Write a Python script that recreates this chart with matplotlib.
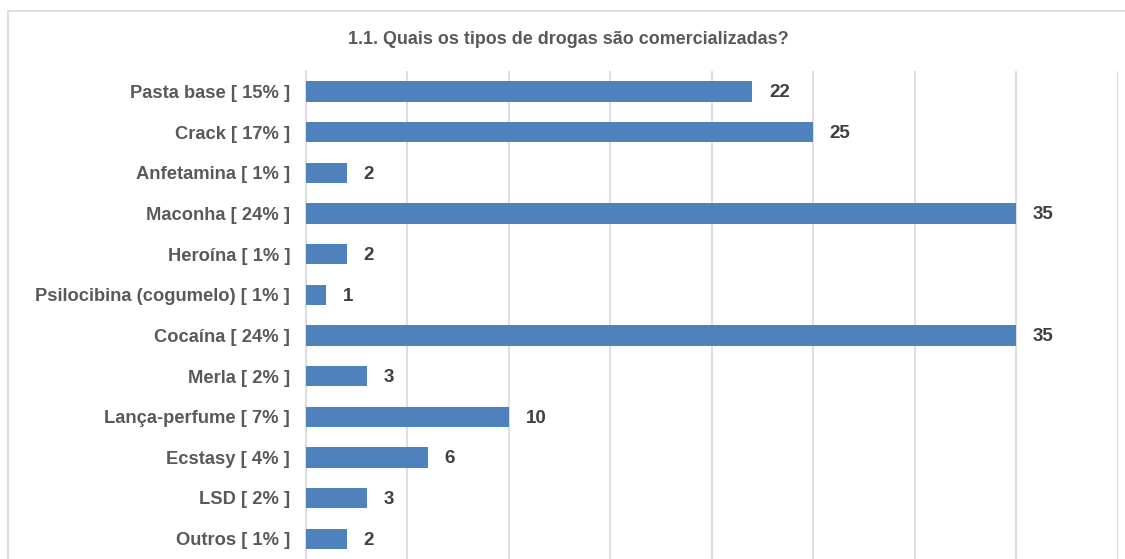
import matplotlib
matplotlib.use("Agg")
from matplotlib import pyplot as plt
from matplotlib.patches import Rectangle

categories = [
    "Pasta base [ 15% ]",
    "Crack [ 17% ]",
    "Anfetamina [ 1% ]",
    "Maconha [ 24% ]",
    "Heroína [ 1% ]",
    "Psilocibina (cogumelo) [ 1% ]",
    "Cocaína [ 24% ]",
    "Merla [ 2% ]",
    "Lança-perfume [ 7% ]",
    "Ecstasy [ 4% ]",
    "LSD [ 2% ]",
    "Outros [ 1% ]",
]
values = [22, 25, 2, 35, 2, 1, 35, 3, 10, 6, 3, 2]
title = "1.1. Quais os tipos de drogas são comercializadas?"

plt.rcParams["font.family"] = ["Liberation Sans", "DejaVu Sans"]

W, H = 1125, 559
fig = plt.figure(figsize=(W / 100, H / 100), dpi=100)

# outer chart border (extends beyond the cropped picture)
fig.patches.append(Rectangle((7.5 / W, -0.1), 1.2, 1 - 10.5 / H + 0.1,
                             transform=fig.transFigure, fill=False,
                             edgecolor="#d9d9d9", linewidth=1.2))

ax = fig.add_axes([306 / W, 0, (1117.5 - 306) / W, (H - 71) / H])

y = list(range(len(categories)))
ax.barh(y, values, height=0.5, color="#4f81bd", zorder=3)
ax.set_ylim(len(categories) - 0.5, -0.5)
ax.set_xlim(0, 40)
ax.set_xticks(range(0, 41, 5))
ax.xaxis.grid(True, color="#d9d9d9", linewidth=1.2, zorder=0)
ax.tick_params(axis="x", length=0, labelbottom=False)
ax.tick_params(axis="y", length=0, pad=11.5)
ax.set_yticks(y)
ax.set_yticklabels(categories, fontsize=13.2, fontweight="bold", color="#595959")
for side in ["top", "right", "bottom"]:
    ax.spines[side].set_visible(False)
ax.spines["left"].set_color("#d9d9d9")
ax.spines["left"].set_linewidth(1.2)

for yi, v in zip(y, values):
    ax.annotate(str(v), (v, yi), xytext=(12, -1), textcoords="offset points",
                ha="left", va="center", fontsize=13.5, fontweight="bold",
                color="#404040")

fig.text(568 / W, 1 - 40 / H, title, ha="center", va="center",
         fontsize=12.9, fontweight="bold", color="#595959")

fig.savefig("out.png", dpi=100)
